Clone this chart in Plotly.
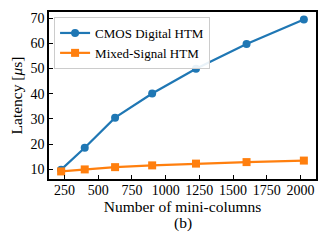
import plotly.graph_objects as go

columns = [225, 400, 625, 900, 1225, 1600, 2025]
cmos_latency = [9.9, 18.6, 30.5, 40.1, 49.9, 59.7, 69.4]
mixed_latency = [9.2, 10.0, 10.9, 11.6, 12.3, 12.9, 13.5]
x_ticks = [250, 500, 750, 1000, 1250, 1500, 1750, 2000]
y_ticks = [10, 20, 30, 40, 50, 60, 70]

FONT = "Liberation Serif, DejaVu Serif, serif"

fig = go.Figure()
fig.add_trace(go.Scatter(
    x=columns, y=cmos_latency, mode="lines+markers", name="CMOS Digital HTM",
    line=dict(color="#1f77b4", width=2.2),
    marker=dict(symbol="circle", size=8, color="#1f77b4"),
))
fig.add_trace(go.Scatter(
    x=columns, y=mixed_latency, mode="lines+markers", name="Mixed-Signal HTM",
    line=dict(color="#ff7f0e", width=2.2),
    marker=dict(symbol="square", size=8, color="#ff7f0e"),
))

axis_common = dict(
    showline=True, linecolor="black", linewidth=1.6, mirror=True,
    ticks="inside", ticklen=4, tickwidth=1, tickcolor="black",
    showgrid=False, zeroline=False, automargin=False,
    tickfont=dict(family=FONT, size=14, color="black"),
)

# the page body has an 8px default margin, so the figure is sized to fit inside it
fig.update_layout(
    width=312, height=224,
    margin=dict(l=41, r=4, t=4, b=53),
    paper_bgcolor="white", plot_bgcolor="white",
    font=dict(family=FONT, color="black"),
    showlegend=True,
    legend=dict(
        x=0.019, y=0.97, xanchor="left", yanchor="top",
        bgcolor="rgba(255,255,255,0.9)", bordercolor="#cccccc", borderwidth=1,
        font=dict(family=FONT, size=13, color="black"),
        tracegroupgap=0, itemwidth=30,
    ),
    xaxis=dict(
        range=[135, 2115], tickvals=x_ticks, ticklabelstandoff=-3,
        title=dict(text="Number of mini-columns", font=dict(family=FONT, size=15.5), standoff=0),
        **axis_common,
    ),
    yaxis=dict(
        range=[6.2, 72.4], tickvals=y_ticks,
        title=dict(text="Latency [<i>μ</i>s]", font=dict(family=FONT, size=15.5), standoff=6),
        **axis_common,
    ),
    annotations=[dict(
        text="(b)", xref="paper", yref="paper", x=0.5, y=-0.263,
        xanchor="center", yanchor="middle", showarrow=False,
        font=dict(family=FONT, size=15.5, color="black"),
    )],
)

fig.write_html("out.html")
